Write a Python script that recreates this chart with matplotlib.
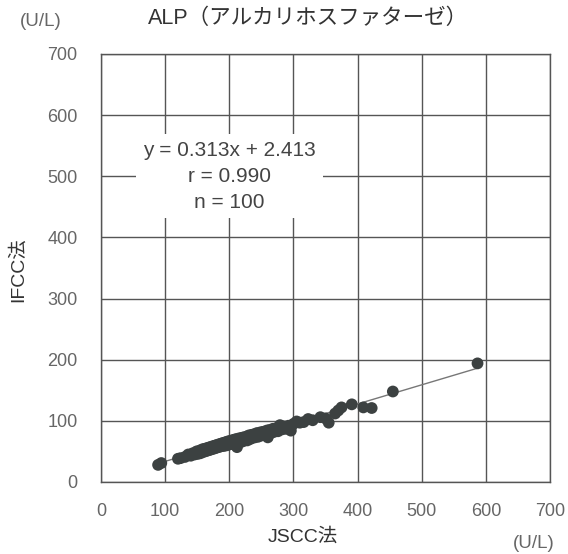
"""ALP method comparison scatter (JSCC vs IFCC)."""

import matplotlib
matplotlib.use("Agg")
import matplotlib.pyplot as plt
import numpy as np

plt.rcParams["font.family"] = ["Liberation Sans", "Noto Sans CJK JP", "DejaVu Sans"]

# JSCC method values (U/L)
jscc = [89, 94, 120, 124, 131, 136, 140, 143, 146, 149, 151, 153, 155, 157, 159,
        160, 162, 164, 165, 167, 168, 170, 171, 173, 174, 176, 177, 179, 180, 182,
        183, 185, 186, 188, 189, 191, 192, 194, 196, 197, 199, 200, 202, 204, 205,
        207, 209, 210, 212, 214, 216, 218, 220, 222, 224, 226, 228, 230, 232, 234,
        236, 238, 240, 243, 245, 248, 250, 252, 255, 258, 260, 262, 265, 268, 270,
        273, 276, 279, 282, 285, 288, 292, 296, 300, 305, 310, 316, 323, 330, 342,
        350, 355, 365, 370, 375, 391, 409, 422, 455, 587]
# IFCC method values (U/L)
ifcc = [28, 31, 38, 39, 41, 45, 43, 47, 45, 50, 46, 51, 47, 53, 49,
        54, 50, 55, 51, 56, 52, 57, 53, 58, 54, 59, 55, 60, 56, 61,
        57, 62, 58, 63, 59, 64, 59, 65, 60, 66, 61, 67, 63, 68, 62,
        69, 64, 70, 57, 71, 65, 72, 66, 73, 68, 74, 68, 76, 70, 77,
        72, 78, 73, 80, 74, 81, 76, 82, 77, 84, 73, 85, 80, 87, 82,
        88, 83, 93, 86, 91, 87, 92, 84, 95, 99, 97, 98, 103, 101, 106,
        104, 97, 112, 117, 122, 127, 122, 121, 148, 194]

slope = 0.313
intercept = 2.413
r_value = 0.990
n_value = 100

ticks = [0, 100, 200, 300, 400, 500, 600, 700]

fig = plt.figure(figsize=(5.68, 5.54), dpi=100)
ax = fig.add_axes([101 / 568, 1 - 482 / 554, 449 / 568, 428 / 554])

grid_c = "#555555"
ax.set_xlim(0, 700)
ax.set_ylim(0, 700)
ax.set_xticks(ticks)
ax.set_yticks(ticks)
ax.grid(color=grid_c, lw=1.0, zorder=0)
ax.set_axisbelow(True)
for sp in ax.spines.values():
    sp.set_color(grid_c)
    sp.set_linewidth(1.0)
ax.tick_params(length=0, labelsize=13, labelcolor="#666666")
ax.tick_params(axis="x", pad=15)
ax.tick_params(axis="y", pad=17)

xs = np.array(jscc, dtype=float)
ax.plot([xs.min(), xs.max()], [slope * xs.min() + intercept, slope * xs.max() + intercept],
        color="#777777", lw=1.0, zorder=2)
ax.scatter(jscc, ifcc, s=72, color="#3c4141", edgecolors="none", zorder=3)

ax.text(200, 500, f"y = {slope:.3f}x + {intercept:.3f}\nr = {r_value:.3f}\nn = {n_value}",
        ha="center", va="center", fontsize=15, color="#444444", linespacing=1.45,
        bbox=dict(fc="white", ec="none", pad=5), zorder=4)

fig.text(308 / 568, 1 - 18 / 554, "ALP（アルカリホスファターゼ）", ha="center", va="center",
         fontsize=15.5, color="#333333")
fig.text(41 / 568, 1 - 21 / 554, "(U/L)", ha="center", va="center",
         fontsize=13.5, color="#666666")
fig.text(534 / 568, 1 - 543 / 554, "(U/L)", ha="center", va="center",
         fontsize=13.5, color="#666666")
fig.text(303 / 568, 1 - 537 / 554, "JSCC法", ha="center", va="center",
         fontsize=14, color="#333333")
fig.text(18 / 568, 1 - 270 / 554, "IFCC法", ha="center", va="center",
         rotation=90, fontsize=14, color="#333333")

fig.savefig("out.png", dpi=100)
